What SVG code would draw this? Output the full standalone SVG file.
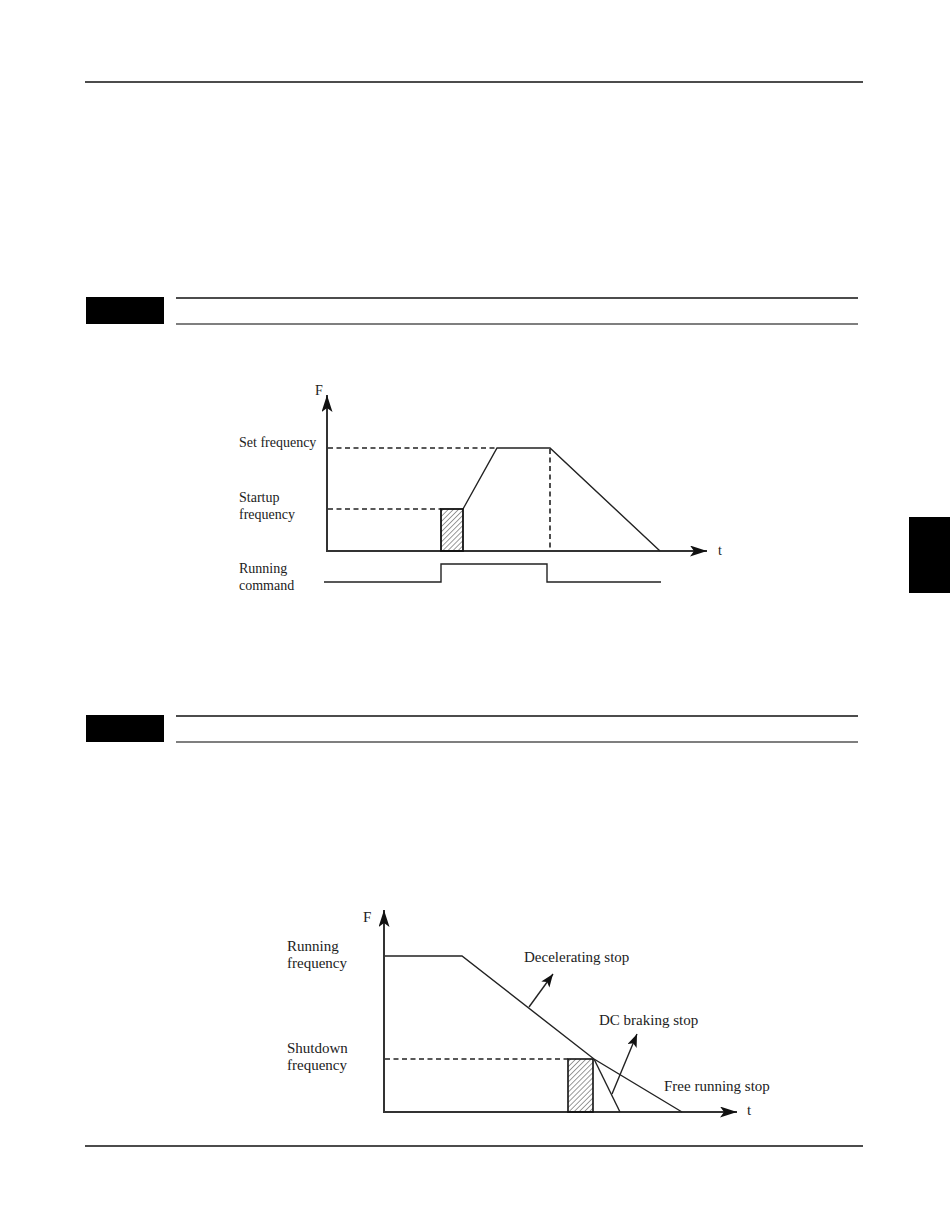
<svg xmlns="http://www.w3.org/2000/svg" width="950" height="1229" viewBox="0 0 950 1229">
<style>
.lbl{font-family:"Liberation Serif","Times New Roman",serif;font-size:14px;fill:#222}
.lbl2{font-family:"Liberation Serif","Times New Roman",serif;font-size:15px;fill:#222}
.axis{stroke:#333;stroke-width:2;fill:none}
.ln{stroke:#222;stroke-width:1.4;fill:none}
.dash{stroke:#222;stroke-width:1.6;fill:none;stroke-dasharray:5,3.5}
.rule{stroke:#111;stroke-width:1.5}
</style>
<defs>
<marker id="ah" markerUnits="userSpaceOnUse" markerWidth="18" markerHeight="12" refX="17" refY="5.5" orient="auto">
<path d="M0,0 L17,5.5 L0,11 L4,5.5 z" fill="#111"/>
</marker>
<marker id="ah2" markerUnits="userSpaceOnUse" markerWidth="14" markerHeight="12" refX="13" refY="5" orient="auto">
<path d="M0,0 L13,5 L0,10 L3,5 z" fill="#111"/>
</marker>
<pattern id="hatch" patternUnits="userSpaceOnUse" width="3.6" height="3.6" patternTransform="rotate(45)">
<line x1="0" y1="0" x2="0" y2="3.6" stroke="#222" stroke-width="0.9"/>
</pattern>
</defs>
<rect width="950" height="1229" fill="#fff"/>

<g id="page">
<line class="rule" x1="85" y1="82" x2="863" y2="82"/>
<line class="rule" x1="85" y1="1146" x2="863" y2="1146" stroke-width="1"/>
<rect x="86" y="297" width="78" height="27" fill="#000"/>
<line class="rule" x1="176" y1="298" x2="858" y2="298"/>
<line x1="176" y1="324" x2="858" y2="324" stroke="#555" stroke-width="1.3"/>
<rect x="86" y="715" width="78" height="27" fill="#000"/>
<line class="rule" x1="176" y1="716" x2="858" y2="716"/>
<line x1="176" y1="742" x2="858" y2="742" stroke="#555" stroke-width="1.3"/>
<rect x="909" y="517" width="41" height="76" fill="#000"/>
</g>

<g id="diagram1">
<g id="d1-axes">
<line class="axis" x1="327" y1="551" x2="327" y2="395" marker-end="url(#ah)"/>
<line class="axis" x1="326" y1="551" x2="707" y2="551" marker-end="url(#ah)"/>
<text class="lbl" x="315" y="395">F</text>
<text class="lbl" x="718" y="555">t</text>
</g>
<g id="d1-labels">
<text class="lbl" x="239" y="447">Set frequency</text>
<text class="lbl" x="239" y="502">Startup</text>
<text class="lbl" x="239" y="519">frequency</text>
<text class="lbl" x="239" y="573">Running</text>
<text class="lbl" x="239" y="590">command</text>
</g>
<g id="d1-connectors">
<line class="dash" x1="328" y1="448" x2="497" y2="448"/>
<line class="dash" x1="328" y1="509" x2="441" y2="509"/>
<line class="dash" x1="550" y1="449" x2="550" y2="551"/>
<polyline class="ln" points="463,509 497,448 550,448 660,551"/>
<polyline class="ln" points="324,582 441,582 441,564 547,564 547,582 661,582"/>
</g>
<g id="d1-hatch">
<rect x="441" y="509" width="22" height="42" fill="url(#hatch)" stroke="#111" stroke-width="1.8"/>
</g>
</g>

<g id="diagram2">
<g id="d2-axes">
<line class="axis" x1="384" y1="1112" x2="384" y2="910" marker-end="url(#ah)"/>
<line class="axis" x1="383" y1="1112" x2="737" y2="1112" marker-end="url(#ah)"/>
<text class="lbl2" x="363" y="922">F</text>
<text class="lbl2" x="747" y="1115">t</text>
</g>
<g id="d2-labels">
<text class="lbl2" x="287" y="951">Running</text>
<text class="lbl2" x="287" y="968">frequency</text>
<text class="lbl2" x="287" y="1053">Shutdown</text>
<text class="lbl2" x="287" y="1070">frequency</text>
<text class="lbl2" x="524" y="962">Decelerating stop</text>
<text class="lbl2" x="599" y="1025">DC braking stop</text>
<text class="lbl2" x="664" y="1091">Free running stop</text>
</g>
<g id="d2-hatch">
<rect x="568" y="1059" width="25" height="53" fill="url(#hatch)" stroke="#111" stroke-width="1.6"/>
</g>
<g id="d2-connectors">
<line class="dash" x1="385" y1="1059" x2="568" y2="1059"/>
<polyline class="ln" points="385,956 462,956 594,1059 682,1112"/>
<line class="ln" x1="594" y1="1059" x2="620" y2="1112"/>
<line class="ln" x1="529" y1="1007" x2="553" y2="974" marker-end="url(#ah2)"/>
<line class="ln" x1="612" y1="1094" x2="637" y2="1034" marker-end="url(#ah2)"/>
</g>
</g>
</svg>
